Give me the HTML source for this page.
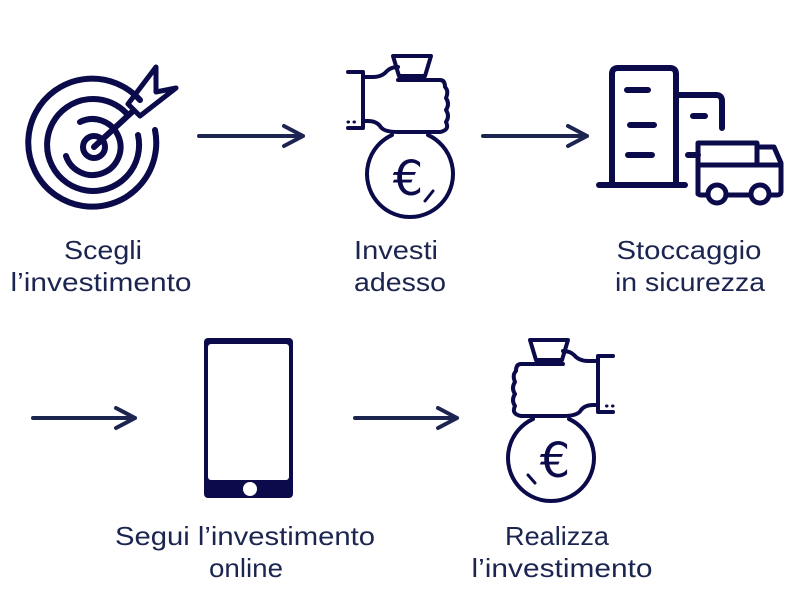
<!DOCTYPE html>
<html><head><meta charset="utf-8"><style>html,body{margin:0;padding:0;background:#fff}svg{display:block}</style></head>
<body>
<svg width="800" height="600" viewBox="0 0 800 600" xmlns="http://www.w3.org/2000/svg">
<g fill="none" stroke="#0b0a4a" stroke-width="6" stroke-linecap="round" stroke-linejoin="round">
  <path d="M140 100 A64 64 0 1 0 155 130"/>
  <path d="M128 115 A46 46 0 1 0 138 135"/>
  <path d="M66 156 A28 28 0 1 0 80 122"/>
  <circle cx="94" cy="147" r="11"/>
  <path d="M94 147 L132 112"/>
  <path d="M128 104 L156 67 L156 92 L176 88 L140 116 Z" stroke-width="5"/>
  <path d="M199 136 H303 M284 126 L303 136 L284 146" stroke="#1c2550" stroke-width="4"/>
  <path d="M483 136 H587 M568 126 L587 136 L568 146" stroke="#1c2550" stroke-width="4"/>
  <path d="M33 418 H135 M116 408 L135 418 L116 428" stroke="#1c2550" stroke-width="4"/>
  <path d="M355 418 H457 M438 408 L457 418 L438 428" stroke="#1c2550" stroke-width="4"/>
  <g id="bag" stroke-width="4">
    <path d="M393 56 H431 L425 76 H399 Z"/>
    <path d="M348 72 H363 V128 H348"/>
    <path d="M363 77 H373 Q382 77 387 71 Q391 67 398 67"/>
    <path d="M398 80 H440 Q445 80 445 87 Q449 91 446 98 Q450 104 446 110 Q450 116 446 122 Q450 130 440 132 H398 Q383 132 380 126 Q376 121 368 121 H363"/>
    <path d="M392 135 A43 43 0 1 0 428 135"/>
    <path d="M348 122 h0.5 M354 122 h0.5" stroke-width="3"/>
  </g>
  <path d="M425 201 L433 191" stroke-width="3"/>
  <use href="#bag" transform="translate(961,284) scale(-1,1)"/>
  <path d="M528 475 L535 483" stroke-width="3"/>
  <path d="M612 185 V74 Q612 68 618 68 H670 Q676 68 676 74 V185"/>
  <path d="M599 185 H685"/>
  <path d="M627 90 H648 M630 125 H654 M628 155 H652 M693 116 H705"/>
  <path d="M676 95 H716 Q722 95 722 101 V128"/>
  <path d="M688 155 H698"/>
  <path d="M698 194 V143 H757 M698 165 H781 M757 143 V165 M757 147 H774 L781 163 V191 Q781 195 777 195 H770 M750 195 H727 M707 195 H701 Q698 195 698 192" stroke-width="5"/>
  <circle cx="717" cy="194" r="9" stroke-width="5"/>
  <circle cx="760" cy="194" r="9" stroke-width="5"/>
</g>
<g font-family="DejaVu Sans, sans-serif" font-size="48" fill="#0b0a4a" text-anchor="middle">
  <text x="408" y="195">€</text>
  <text x="555" y="477">€</text>
</g>
<rect x="204" y="338" width="89" height="160" rx="4" fill="#0b0a4a"/>
<rect x="208" y="344" width="81" height="136" rx="3" fill="#fff"/>
<circle cx="250" cy="489" r="7" fill="#fff"/>
<g font-family="Liberation Sans, sans-serif" font-size="26" fill="#1c2550">
  <text x="103" y="259" text-anchor="middle" textLength="78" lengthAdjust="spacingAndGlyphs">Scegli</text>
  <text x="101" y="291" text-anchor="middle" textLength="181" lengthAdjust="spacingAndGlyphs">l’investimento</text>
  <text x="354" y="259" textLength="84" lengthAdjust="spacingAndGlyphs">Investi</text>
  <text x="354" y="291" textLength="92" lengthAdjust="spacingAndGlyphs">adesso</text>
  <text x="689" y="259" text-anchor="middle" textLength="145" lengthAdjust="spacingAndGlyphs">Stoccaggio</text>
  <text x="690" y="291" text-anchor="middle" textLength="150" lengthAdjust="spacingAndGlyphs">in sicurezza</text>
  <text x="245" y="545" text-anchor="middle" textLength="260" lengthAdjust="spacingAndGlyphs">Segui l’investimento</text>
  <text x="246" y="577" text-anchor="middle" textLength="74" lengthAdjust="spacingAndGlyphs">online</text>
  <text x="557" y="545" text-anchor="middle" textLength="104" lengthAdjust="spacingAndGlyphs">Realizza</text>
  <text x="562" y="577" text-anchor="middle" textLength="181" lengthAdjust="spacingAndGlyphs">l’investimento</text>
</g>
</svg>
</body></html>
